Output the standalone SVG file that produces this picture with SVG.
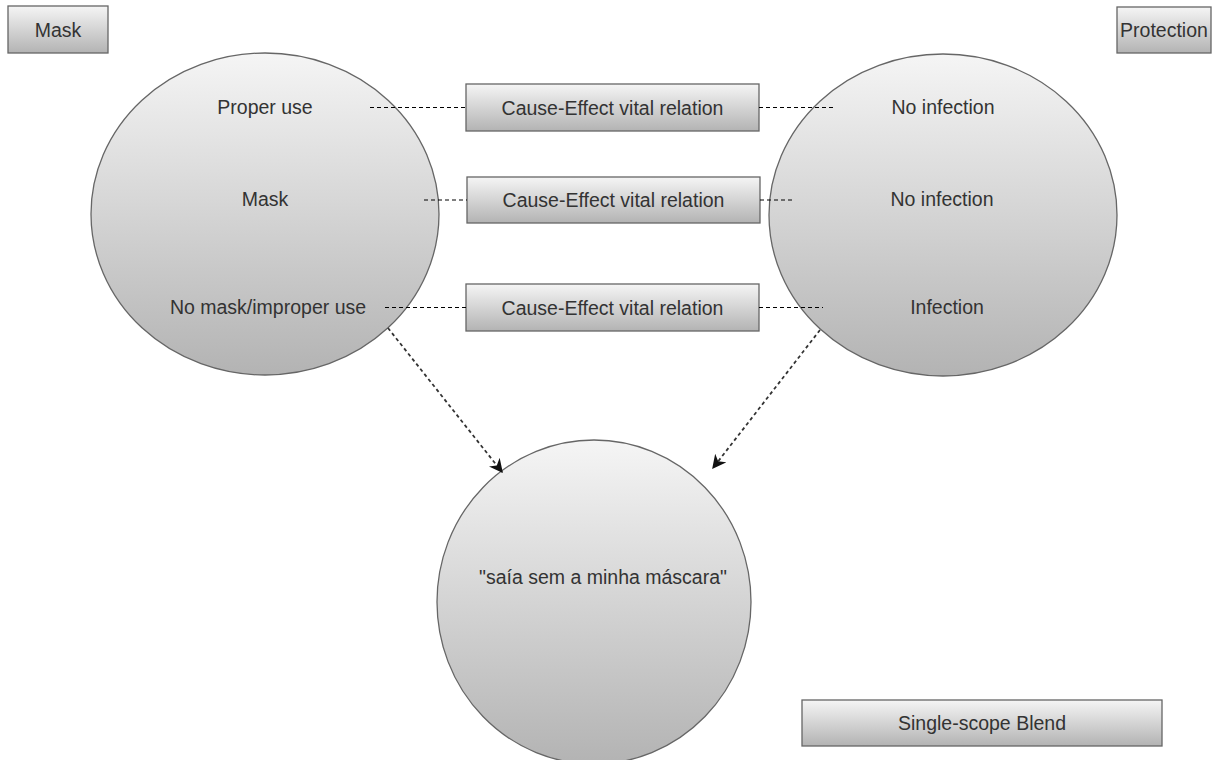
<svg xmlns="http://www.w3.org/2000/svg" width="1217" height="760" viewBox="0 0 1217 760">
  <defs>
    <linearGradient id="shade" x1="0" y1="0" x2="0" y2="1">
      <stop offset="0" stop-color="#f5f5f5"/>
      <stop offset="1" stop-color="#b3b3b3"/>
    </linearGradient>
    <marker id="arrow" viewBox="0 0 10 10" refX="9" refY="5" markerWidth="14" markerHeight="14" markerUnits="userSpaceOnUse" orient="auto">
      <path d="M0,0 L10,5 L0,10 L3,5 Z" fill="#111"/>
    </marker>
    <style>
      .shape { fill: url(#shade); stroke: #666; stroke-width: 1.3; }
      .lbl { font-family: "Liberation Sans", Arial, sans-serif; font-size: 19.5px; fill: #333; text-anchor: middle; dominant-baseline: central; }
      .dash { stroke: #000; stroke-width: 1; stroke-dasharray: 4 3; fill: none; }
      .arr { stroke: #333; stroke-width: 1.8; stroke-dasharray: 3.5 3; fill: none; marker-end: url(#arrow); }
    </style>
  </defs>
  <rect width="1217" height="760" fill="#fff"/>

  <!-- space labels -->
  <g id="mask-label">
    <rect class="shape" x="8" y="6" width="100" height="47"/>
    <text class="lbl" x="58" y="29.5">Mask</text>
  </g>
  <g id="protection-label">
    <rect class="shape" x="1117" y="7" width="94" height="46"/>
    <text class="lbl" x="1164" y="30">Protection</text>
  </g>

  <!-- input spaces -->
  <g id="space-mask">
    <ellipse class="shape" cx="265" cy="214" rx="174" ry="161"/>
    <text class="lbl" x="265" y="107">Proper use</text>
    <text class="lbl" x="265" y="199">Mask</text>
    <text class="lbl" x="268" y="307">No mask/improper use</text>
  </g>
  <g id="space-protection">
    <ellipse class="shape" cx="943" cy="215" rx="174" ry="161"/>
    <text class="lbl" x="943" y="107">No infection</text>
    <text class="lbl" x="942" y="199">No infection</text>
    <text class="lbl" x="947" y="307">Infection</text>
  </g>

  <!-- blended space -->
  <g id="space-blend">
    <ellipse class="shape" cx="594" cy="602" rx="157" ry="162"/>
    <text class="lbl" x="603" y="577">"saía sem a minha máscara"</text>
  </g>

  <!-- vital relations -->
  <g id="relation-1">
    <rect class="shape" x="466" y="84" width="293" height="47"/>
    <text class="lbl" x="612.5" y="107.5">Cause-Effect vital relation</text>
  </g>
  <g id="relation-2">
    <rect class="shape" x="467" y="177" width="293" height="46"/>
    <text class="lbl" x="613.5" y="199.5">Cause-Effect vital relation</text>
  </g>
  <g id="relation-3">
    <rect class="shape" x="466" y="284" width="293" height="47"/>
    <text class="lbl" x="612.5" y="307.5">Cause-Effect vital relation</text>
  </g>

  <g id="blend-type">
    <rect class="shape" x="802" y="700" width="360" height="46"/>
    <text class="lbl" x="982" y="723">Single-scope Blend</text>
  </g>

  <!-- connectors -->
  <g id="connectors">
    <line class="dash" x1="370" y1="107.5" x2="466" y2="107.5"/>
    <line class="dash" x1="759" y1="107.5" x2="833" y2="107.5"/>
    <line class="dash" x1="424" y1="200" x2="467" y2="200"/>
    <line class="dash" x1="760" y1="200" x2="793" y2="200"/>
    <line class="dash" x1="385" y1="307.5" x2="466" y2="307.5"/>
    <line class="dash" x1="759" y1="307.5" x2="823" y2="307.5"/>
    <line class="arr" x1="388" y1="328" x2="502" y2="472"/>
    <line class="arr" x1="820" y1="330" x2="713" y2="468"/>
  </g>
</svg>
